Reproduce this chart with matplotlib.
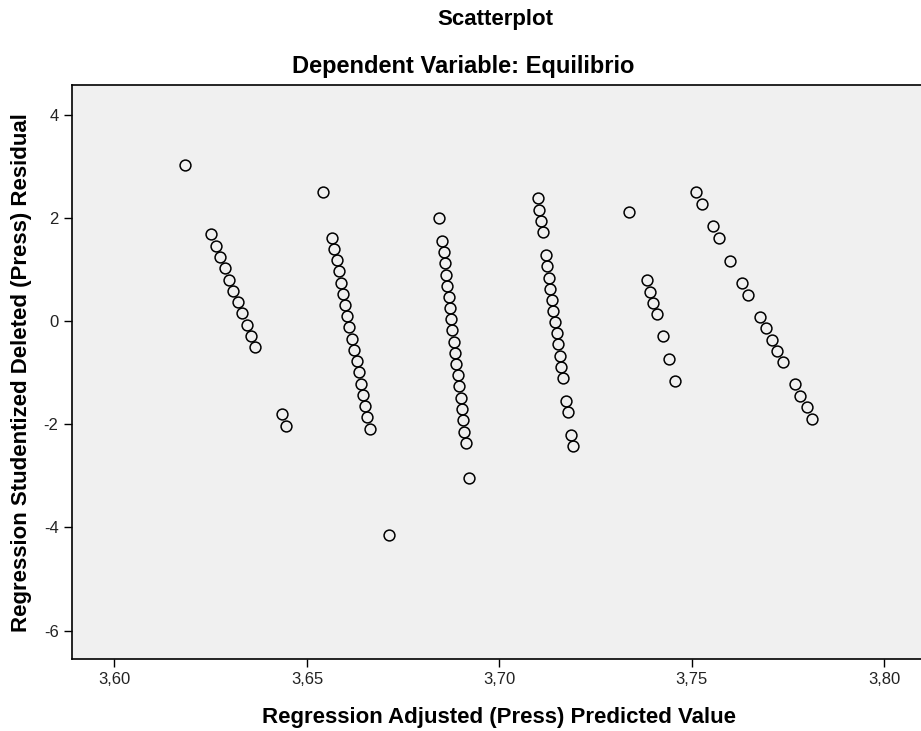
import matplotlib
matplotlib.use("Agg")
import matplotlib.pyplot as plt
from matplotlib.ticker import FixedLocator, FixedFormatter

# ---- data ----
pred_c1 = [3.6184, 3.6251, 3.6263, 3.6275, 3.6286, 3.6297, 3.6308, 3.6321, 3.6332, 3.6343, 3.6354, 3.6365,
           3.6434, 3.6445]
resid_c1 = [3.02, 1.680, 1.453, 1.240, 1.021, 0.800, 0.581, 0.362, 0.149, -0.072, -0.291, -0.504,
            -1.808, -2.029]

pred_c2 = [3.6541, 3.6565, 3.6571, 3.6577, 3.6583, 3.6588, 3.6594, 3.6599, 3.6605, 3.6610, 3.6617,
           3.6623, 3.6629, 3.6635, 3.6640, 3.6646, 3.6651, 3.6657, 3.6663, 3.6713]
resid_c2 = [2.50, 1.614, 1.395, 1.176, 0.963, 0.742, 0.523, 0.310, 0.091, -0.122, -0.343,
            -0.562, -0.775, -0.994, -1.215, -1.434, -1.647, -1.866, -2.087, -4.147]

pred_c3 = [3.6844, 3.6851, 3.6855, 3.6858, 3.6862, 3.6865, 3.6869, 3.6872, 3.6875, 3.6878, 3.6882,
           3.6885, 3.6888, 3.6892, 3.6895, 3.6899, 3.6902, 3.6906, 3.6909, 3.6913, 3.6922]
resid_c3 = [1.996, 1.556, 1.337, 1.118, 0.897, 0.678, 0.465, 0.252, 0.033, -0.180, -0.401,
            -0.614, -0.828, -1.047, -1.266, -1.486, -1.705, -1.924, -2.145, -2.370, -3.037]

pred_c4 = [3.7100, 3.7103, 3.7108, 3.7112, 3.7121, 3.7124, 3.7128, 3.7132, 3.7136, 3.7140, 3.7145,
           3.7149, 3.7152, 3.7157, 3.7161, 3.7165, 3.7173, 3.7178, 3.7186, 3.7191]
resid_c4 = [2.384, 2.157, 1.938, 1.719, 1.285, 1.060, 0.839, 0.626, 0.413, 0.194, -0.025,
            -0.238, -0.452, -0.672, -0.891, -1.110, -1.545, -1.764, -2.209, -2.428]

pred_c5 = [3.7336, 3.7384, 3.7392, 3.7400, 3.7409, 3.7424, 3.7440, 3.7456]
resid_c5 = [2.107, 0.789, 0.568, 0.349, 0.136, -0.297, -0.736, -1.169]

pred_c6 = [3.7510, 3.7525, 3.7556, 3.7571, 3.7600, 3.7631, 3.7646, 3.7676, 3.7692, 3.7707, 3.7721,
           3.7737, 3.7767, 3.7782, 3.7798, 3.7812]
resid_c6 = [2.500, 2.273, 1.835, 1.609, 1.169, 0.731, 0.510, 0.078, -0.141, -0.362, -0.576,
            -0.795, -1.227, -1.453, -1.676, -1.890]

x_ticks = [3.60, 3.65, 3.70, 3.75, 3.80]
x_tick_labels = ["3,60", "3,65", "3,70", "3,75", "3,80"]
y_ticks = [4, 2, 0, -2, -4, -6]
y_tick_labels = ["4", "2", "0", "-2", "-4", "-6"]

title1 = "Scatterplot"
title2 = "Dependent Variable: Equilibrio"
x_label = "Regression Adjusted (Press) Predicted Value"
y_label = "Regression Studentized Deleted (Press) Residual"

# ---- figure ----
plt.rcParams['font.family'] = ['Liberation Sans', 'DejaVu Sans']
fig = plt.figure(figsize=(9.21, 7.31), dpi=100)
fig.patch.set_facecolor('white')
ax = fig.add_axes([0.0779, 0.0981, 1.0 - 0.0779 + 0.01, 0.7856])
ax.set_facecolor('#F0F0F0')

xs = pred_c1 + pred_c2 + pred_c3 + pred_c4 + pred_c5 + pred_c6
ys = resid_c1 + resid_c2 + resid_c3 + resid_c4 + resid_c5 + resid_c6
ax.plot(xs, ys, linestyle='none', marker='o', markersize=7.8,
        markerfacecolor='none', markeredgecolor='black', markeredgewidth=1.1)

ax.set_xlim(3.5889, 3.8119)
ax.set_ylim(-6.556, 4.574)

ax.xaxis.set_major_locator(FixedLocator(x_ticks))
ax.xaxis.set_major_formatter(FixedFormatter(x_tick_labels))
ax.yaxis.set_major_locator(FixedLocator(y_ticks))
ax.yaxis.set_major_formatter(FixedFormatter(y_tick_labels))
ax.tick_params(direction='out', length=5.5, width=1.0, color='black',
               labelsize=12, labelcolor='#222222', pad=4)

for s in ['left', 'bottom', 'top']:
    ax.spines[s].set_color('black')
    ax.spines[s].set_linewidth(1.2)
ax.spines['right'].set_visible(False)

fig.text(0.538, 1 - 20 / 731, title1, ha='center', va='center', fontsize=16, fontweight='bold')
fig.text(0.503, 1 - 67 / 731, title2, ha='center', va='center', fontsize=17, fontweight='bold')
fig.text(0.542, 1 - 717 / 731, x_label, ha='center', va='center', fontsize=16, fontweight='bold')
fig.text(22 / 921, 1 - 373 / 731, y_label, ha='center', va='center', rotation=90,
         fontsize=16, fontweight='bold')

fig.savefig('out.png', dpi=100)
